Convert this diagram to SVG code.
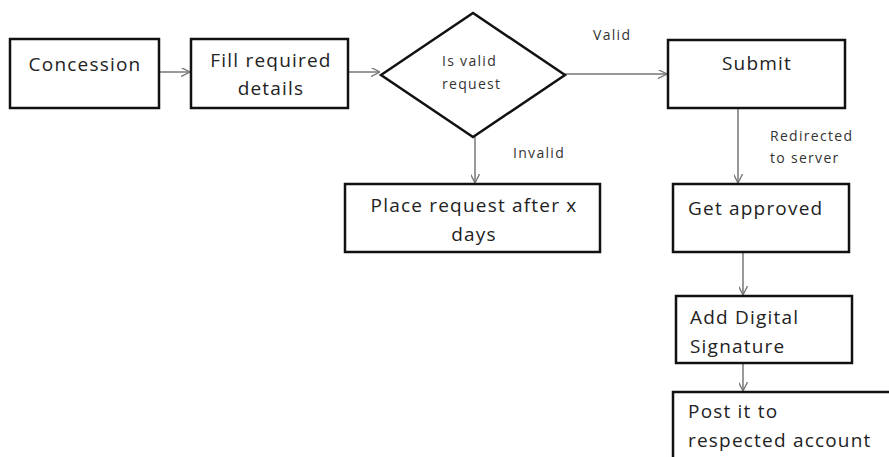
<svg xmlns="http://www.w3.org/2000/svg" width="889" height="457" viewBox="0 0 889 457">
<defs>
<marker id="arr" viewBox="0 0 10 10" refX="10" refY="5" markerWidth="9" markerHeight="9" markerUnits="userSpaceOnUse" orient="auto">
<path d="M0,0 L10,5 L0,10" fill="none" stroke="#777" stroke-width="1.5"/>
</marker>
</defs>
<style>
.box{fill:#fff;stroke:#111;stroke-width:2.5}
.t{font-family:"Open Sans","Liberation Sans",sans-serif;font-size:19px;letter-spacing:1.2px;fill:#222}
.s{font-family:"Open Sans","Liberation Sans",sans-serif;font-size:14px;letter-spacing:1.3px;fill:#333}
.c{fill:none;stroke:#777;stroke-width:1.5;marker-end:url(#arr)}
</style>
<rect width="889" height="457" fill="#fff"/>
<g id="connectors">
<line class="c" x1="159" y1="72" x2="190" y2="72"/>
<line class="c" x1="348" y1="72" x2="380" y2="72"/>
<line class="c" x1="565" y1="74" x2="667" y2="74"/>
<line class="c" x1="475" y1="137" x2="475" y2="183"/>
<line class="c" x1="738" y1="108" x2="738" y2="183"/>
<line class="c" x1="743" y1="252" x2="743" y2="295"/>
<line class="c" x1="743" y1="363" x2="743" y2="391"/>
<text class="s" x="593" y="40">Valid</text>
<text class="s" x="513" y="158">Invalid</text>
<text class="s" x="770" y="141">Redirected</text>
<text class="s" x="770" y="163">to server</text>
</g>
<g id="concession">
<rect class="box" x="10" y="39" width="149" height="69"/>
<text class="t" x="85" y="71" text-anchor="middle">Concession</text>
</g>
<g id="fill-details">
<rect class="box" x="191" y="39" width="157" height="69"/>
<text class="t" x="271" y="67" text-anchor="middle">Fill required</text>
<text class="t" x="271" y="95" text-anchor="middle">details</text>
</g>
<g id="is-valid">
<polygon points="381,75 473,13 565,75 473,137" fill="#fff" stroke="#111" stroke-width="2.5"/>
<text class="s" x="442" y="66">Is valid</text>
<text class="s" x="442" y="89">request</text>
</g>
<g id="submit">
<rect class="box" x="668" y="40" width="177" height="68"/>
<text class="t" x="757" y="70" text-anchor="middle">Submit</text>
</g>
<g id="place-request">
<rect class="box" x="345" y="184" width="255" height="68"/>
<text class="t" x="474" y="212" text-anchor="middle">Place request after x</text>
<text class="t" x="474" y="241" text-anchor="middle">days</text>
</g>
<g id="get-approved">
<rect class="box" x="673" y="184" width="176" height="68"/>
<text class="t" x="688" y="215">Get approved</text>
</g>
<g id="add-signature">
<rect class="box" x="676" y="296" width="176" height="67"/>
<text class="t" x="690" y="324">Add Digital</text>
<text class="t" x="690" y="353">Signature</text>
</g>
<g id="post-account">
<rect class="box" x="673" y="392" width="230" height="80"/>
<text class="t" x="688" y="418">Post it to</text>
<text class="t" x="688" y="447">respected account</text>
</g>
</svg>
